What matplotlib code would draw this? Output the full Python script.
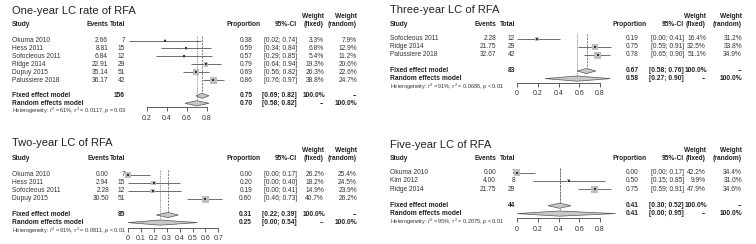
import numpy as np
import matplotlib
matplotlib.use('Agg')
from matplotlib import pyplot as plt

plt.rcParams['font.family'] = ['Liberation Sans', 'DejaVu Sans']
plt.rcParams['mathtext.fontset'] = 'custom'
plt.rcParams['mathtext.rm'] = 'Liberation Sans'
plt.rcParams['mathtext.it'] = 'Liberation Sans:italic'

# ---- data ----
titles = ['One-year LC rate of RFA', 'Three-year LC of RFA',
          'Two-year LC of RFA', 'Five-year LC of RFA']

studies1 = ['Okuma 2010', 'Hess 2011', 'Sofocleous 2011', 'Ridge 2014', 'Dupuy 2015', 'Palussiere 2018']
events1 = [2.66, 8.81, 6.84, 22.91, 35.14, 36.17]
total1 = [7, 15, 12, 29, 51, 42]
prop1 = [0.38, 0.59, 0.57, 0.79, 0.69, 0.86]
lo1 = [0.02, 0.34, 0.29, 0.64, 0.56, 0.76]
hi1 = [0.74, 0.84, 0.85, 0.94, 0.82, 0.97]
wfix1 = [3.3, 6.8, 5.4, 19.3, 26.3, 38.8]
wran1 = [7.9, 12.9, 11.2, 20.6, 22.6, 24.7]
fixed1 = [0.75, 0.69, 0.82]
random1 = [0.70, 0.58, 0.82]
n1 = 156
het1 = 'Heterogeneity: $I^2$ = 61%, $\\tau^2$ = 0.0117, $p$ = 0.03'
ticks1 = [0.2, 0.4, 0.6, 0.8]
ticklab1 = ['0.2', '0.4', '0.6', '0.8']

studies2 = ['Sofocleous 2011', 'Ridge 2014', 'Palussiere 2018']
events2 = [2.28, 21.75, 32.67]
total2 = [12, 29, 42]
prop2 = [0.19, 0.75, 0.78]
lo2 = [0.00, 0.59, 0.65]
hi2 = [0.41, 0.91, 0.90]
wfix2 = [16.4, 32.5, 51.1]
wran2 = [31.2, 33.8, 34.9]
fixed2 = [0.67, 0.58, 0.76]
random2 = [0.58, 0.27, 0.90]
n2 = 83
het2 = 'Heterogeneity: $I^2$ = 91%, $\\tau^2$ = 0.0686, $p$ < 0.01'
ticks2 = [0, 0.2, 0.4, 0.6, 0.8]
ticklab2 = ['0', '0.2', '0.4', '0.6', '0.8']

studies3 = ['Okuma 2010', 'Hess 2011', 'Sofocleous 2011', 'Dupuy 2015']
events3 = [0.00, 2.94, 2.28, 30.50]
total3 = [7, 15, 12, 51]
prop3 = [0.00, 0.20, 0.19, 0.60]
lo3 = [0.00, 0.00, 0.00, 0.46]
hi3 = [0.17, 0.40, 0.41, 0.73]
wfix3 = [26.2, 18.2, 14.9, 40.7]
wran3 = [25.4, 24.5, 23.9, 26.2]
fixed3 = [0.31, 0.22, 0.39]
random3 = [0.25, 0.00, 0.54]
n3 = 85
het3 = 'Heterogeneity: $I^2$ = 91%, $\\tau^2$ = 0.0811, $p$ < 0.01'
ticks3 = [0, 0.1, 0.2, 0.3, 0.4, 0.5, 0.6, 0.7]
ticklab3 = ['0', '0.1', '0.2', '0.3', '0.4', '0.5', '0.6', '0.7']

studies4 = ['Okuma 2010', 'Kim 2012', 'Ridge 2014']
events4 = [0.00, 4.00, 21.75]
total4 = [7, 8, 29]
prop4 = [0.00, 0.50, 0.75]
lo4 = [0.00, 0.15, 0.59]
hi4 = [0.17, 0.85, 0.91]
wfix4 = [42.2, 9.9, 47.9]
wran4 = [34.4, 31.0, 34.6]
fixed4 = [0.41, 0.30, 0.52]
random4 = [0.41, 0.00, 0.95]
n4 = 44
het4 = 'Heterogeneity: $I^2$ = 95%, $\\tau^2$ = 0.2075, $p$ < 0.01'
ticks4 = [0, 0.2, 0.4, 0.6, 0.8]
ticklab4 = ['0', '0.2', '0.4', '0.6', '0.8']

W, H = 756, 244
fig = plt.figure(figsize=(W / 100, H / 100), dpi=100)
bg = fig.add_axes([0, 0, 1, 1])
bg.set_xlim(0, W)
bg.set_ylim(H, 0)
bg.axis('off')

TXT = '#333333'
FS = 4.8


def forest(studies, events, total, prop, lo, hi, wfix, wran, fixed, random, n, het,
           ticks, ticklab, title, lay):
    x_study, x_ev, x_tot, x0, ppu = lay['study'], lay['ev'], lay['tot'], lay['x0'], lay['ppu']
    x_prh, x_pr, x_ci, x_wf, x_wr = lay['prh'], lay['pr'], lay['ci'], lay['wf'], lay['wr']
    y_title, y_head, y_row, dy, y_axis = lay['title'], lay['head'], lay['row'], lay['dy'], lay['axis']

    bg.text(x_study, y_title, title, fontsize=8, va='center', ha='left', color='#222222')
    # headers
    hd = dict(fontsize=FS, fontweight='bold', va='center', color='#222222')
    bg.text(x_study, y_head, 'Study', ha='left', **hd)
    bg.text(x_ev, y_head, 'Events', ha='right', **hd)
    bg.text(x_tot, y_head, 'Total', ha='right', **hd)
    bg.text(x_prh, y_head, 'Proportion', ha='right', **hd)
    bg.text(x_ci, y_head, '95%-CI', ha='right', **hd)
    bg.text(x_wf, y_head - 7.5, 'Weight', ha='right', **hd)
    bg.text(x_wr, y_head - 7.5, 'Weight', ha='right', **hd)
    bg.text(x_wf, y_head, '(fixed)', ha='right', **hd)
    bg.text(x_wr, y_head, '(random)', ha='right', **hd)

    k = len(studies)
    ys = y_row + dy * np.arange(k)
    y_fix = ys[-1] + 2 * dy
    y_ran = y_fix + dy * 0.95
    y_het = y_ran + dy * 0.95

    tx = dict(fontsize=FS, va='center', color=TXT)
    for i in range(k):
        bg.text(x_study, ys[i], studies[i], ha='left', **tx)
        bg.text(x_ev, ys[i], '%.2f' % events[i], ha='right', **tx)
        bg.text(x_tot, ys[i], str(total[i]), ha='right', **tx)
        bg.text(x_pr, ys[i], '%.2f' % prop[i], ha='right', **tx)
        bg.text(x_ci, ys[i], '[%.2f; %.2f]' % (lo[i], hi[i]), ha='right', **tx)
        bg.text(x_wf, ys[i], '%.1f%%' % wfix[i], ha='right', **tx)
        bg.text(x_wr, ys[i], '%.1f%%' % wran[i], ha='right', **tx)

    bx = dict(fontsize=FS, fontweight='bold', va='center', color='#222222')
    bg.text(x_study, y_fix, 'Fixed effect model', ha='left', **bx)
    bg.text(x_tot, y_fix, str(n), ha='right', **bx)
    bg.text(x_pr, y_fix, '%.2f' % fixed[0], ha='right', **bx)
    bg.text(x_ci, y_fix, '[%.2f; %.2f]' % (fixed[1], fixed[2]), ha='right', **bx)
    bg.text(x_wf + 1, y_fix, '100.0%', ha='right', **bx)
    bg.text(x_wr, y_fix, '--', ha='right', **bx)
    bg.text(x_study, y_ran, 'Random effects model', ha='left', **bx)
    bg.text(x_pr, y_ran, '%.2f' % random[0], ha='right', **bx)
    bg.text(x_ci, y_ran, '[%.2f; %.2f]' % (random[1], random[2]), ha='right', **bx)
    bg.text(x_wf, y_ran, '--', ha='right', **bx)
    bg.text(x_wr, y_ran, '100.0%', ha='right', **bx)
    bg.text(x_study, y_het + 0.3, het, ha='left', fontsize=4.0, va='center', color=TXT)

    # forest axes: x in proportion units, y in figure pixels
    xlo, xhi = -0.1, 1.0
    top = y_head
    ax = fig.add_axes([(x0 + xlo * ppu) / W, (H - y_axis) / H,
                       (xhi - xlo) * ppu / W, (y_axis - top) / H])
    ax.set_xlim(xlo, xhi)
    ax.set_ylim(y_axis, top)
    ax.patch.set_visible(False)
    for s in ['left', 'right', 'top']:
        ax.spines[s].set_visible(False)
    ax.spines['bottom'].set_bounds(ticks[0], ticks[-1])
    ax.spines['bottom'].set_linewidth(0.6)
    ax.spines['bottom'].set_color('#444444')
    ax.set_yticks([])
    ax.set_xticks(ticks)
    ax.set_xticklabels(ticklab)
    ax.tick_params(axis='x', direction='out', length=3, width=0.6, pad=2.5,
                   labelsize=5, colors='#444444', labelcolor='#333333')

    h = 2.6
    ax.hlines(ys, lo, hi, color='#555555', lw=0.6, zorder=2, clip_on=False)
    side = 7.0 * np.sqrt(np.array(wfix) / max(wfix))
    ax.scatter(prop, ys, marker='s', s=(side * 0.72) ** 2, color='#BDBDBD',
               linewidths=0, zorder=3, clip_on=False)
    ax.scatter(prop, ys, marker='s', s=0.6, color='#333333', linewidths=0,
               zorder=4, clip_on=False)

    ax.vlines(fixed[0], ys[0] - 5, y_fix - h, color='#666666', lw=0.6,
              linestyles=(0, (2.5, 1.5)), zorder=1, clip_on=False)
    ax.vlines(random[0], ys[0] - 5, y_ran - h, color='#666666', lw=0.6,
              linestyles=(0, (1, 1.2)), zorder=1, clip_on=False)

    for est, y in [(fixed, y_fix), (random, y_ran)]:
        ax.fill([est[1], est[0], est[2], est[0]], [y, y - h, y, y + h],
                facecolor='#C8C8C8', edgecolor='#555555', lw=0.5, zorder=3,
                clip_on=False)


lay1 = dict(study=12, ev=108, tot=125, x0=127, ppu=100, prh=261, pr=253, ci=297,
            wf=324, wr=357, title=11, head=24, row=40.5, dy=7.9, axis=107)
lay2 = dict(study=390, ev=496, tot=515, x0=517, ppu=103.75, prh=647, pr=639, ci=684,
            wf=706, wr=742, title=10, head=24, row=39, dy=8.0, axis=82.5)
lay3 = dict(study=12, ev=109, tot=125, x0=128, ppu=129, prh=261, pr=252, ci=297,
            wf=324, wr=357, title=143, head=158, row=175, dy=8.0, axis=227.5)
lay4 = dict(study=390, ev=496, tot=515, x0=517, ppu=103.75, prh=647, pr=639, ci=684,
            wf=706, wr=742, title=145, head=158, row=172.5, dy=8.3, axis=218)

forest(studies1, events1, total1, prop1, lo1, hi1, wfix1, wran1, fixed1, random1, n1, het1,
       ticks1, ticklab1, titles[0], lay1)
forest(studies2, events2, total2, prop2, lo2, hi2, wfix2, wran2, fixed2, random2, n2, het2,
       ticks2, ticklab2, titles[1], lay2)
forest(studies3, events3, total3, prop3, lo3, hi3, wfix3, wran3, fixed3, random3, n3, het3,
       ticks3, ticklab3, titles[2], lay3)
forest(studies4, events4, total4, prop4, lo4, hi4, wfix4, wran4, fixed4, random4, n4, het4,
       ticks4, ticklab4, titles[3], lay4)

fig.savefig('out.png', dpi=100, facecolor='white')
